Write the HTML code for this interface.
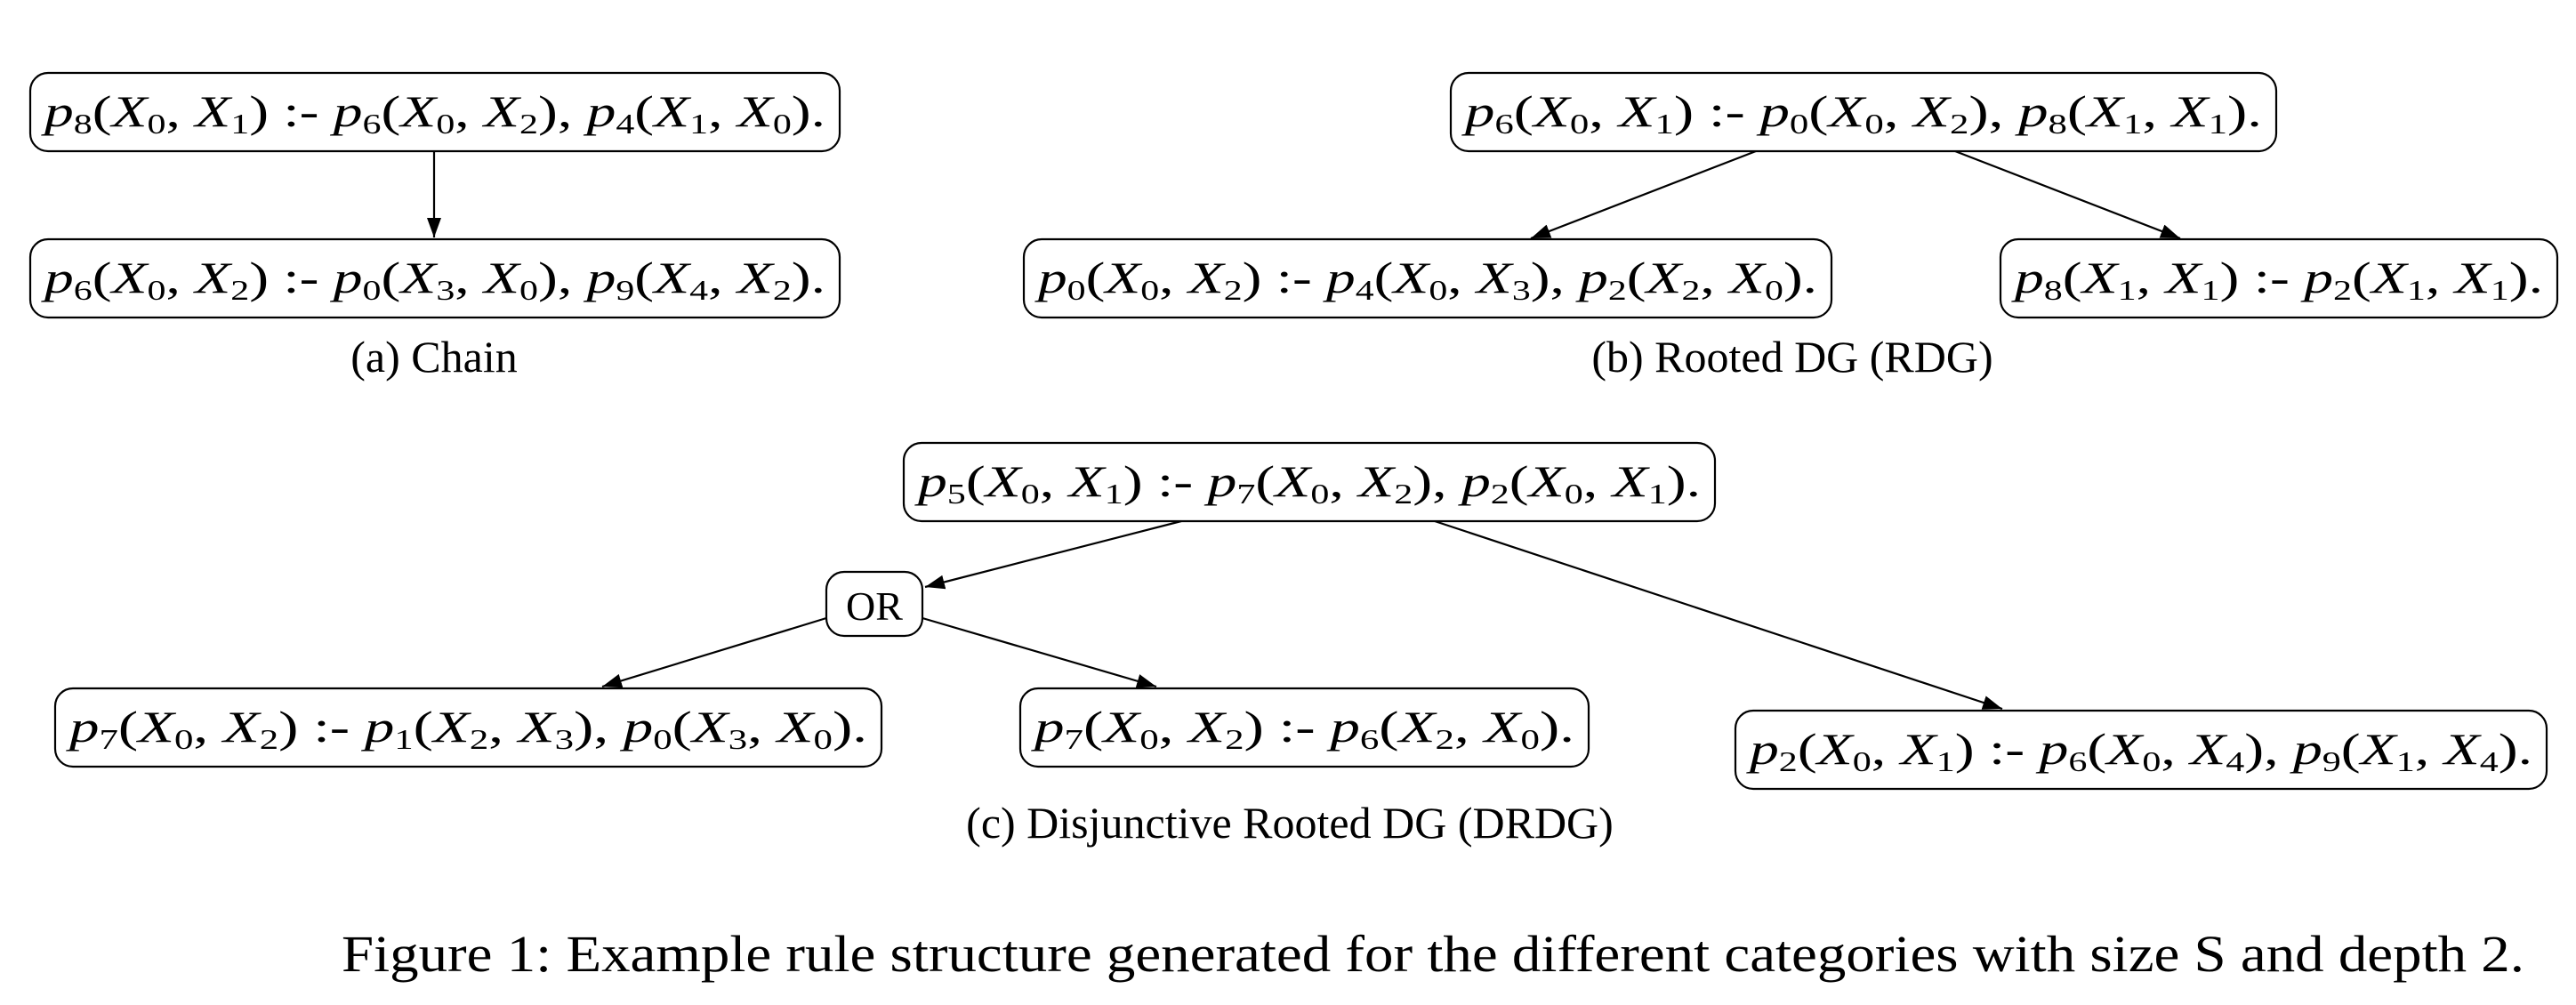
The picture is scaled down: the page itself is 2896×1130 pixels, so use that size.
<!DOCTYPE html>
<html><head><meta charset="utf-8"><style>
html,body{margin:0;padding:0;background:#fff;}
svg{display:block;}
text{font-family:"Liberation Serif",serif;fill:#000;}
.i{font-style:italic;}
</style></head><body>
<svg width="2896" height="1130" viewBox="0 0 2896 1130" xmlns="http://www.w3.org/2000/svg">
<defs>
<marker id="a" markerWidth="22" markerHeight="16" refX="22" refY="8" orient="auto" markerUnits="userSpaceOnUse"><path d="M0,0 L22,8 L0,16 z" fill="#000"/></marker></defs>
<g fill="none" stroke="#000" stroke-width="2.2">
<rect x="34" y="82" width="910" height="88" rx="20"/>
<rect x="34" y="269" width="910" height="88" rx="20"/>
<rect x="1631" y="82" width="928" height="88" rx="20"/>
<rect x="1151" y="269" width="908" height="88" rx="20"/>
<rect x="2249" y="269" width="626" height="88" rx="20"/>
<rect x="1016" y="498" width="912" height="88" rx="20"/>
<rect x="929" y="643" width="108" height="72" rx="20"/>
<rect x="62" y="774" width="929" height="88" rx="20"/>
<rect x="1147" y="774" width="639" height="88" rx="20"/>
<rect x="1951" y="799" width="912" height="88" rx="20"/>
<line x1="488" y1="170" x2="488" y2="267" marker-end="url(#a)"/>
<line x1="1974" y1="170" x2="1721" y2="268" marker-end="url(#a)"/>
<line x1="2198" y1="170" x2="2451" y2="268" marker-end="url(#a)"/>
<line x1="1328" y1="586" x2="1040" y2="660" marker-end="url(#a)"/>
<line x1="1613" y1="586" x2="2251" y2="797" marker-end="url(#a)"/>
<line x1="929" y1="695" x2="677" y2="772" marker-end="url(#a)"/>
<line x1="1037" y1="695" x2="1300" y2="772" marker-end="url(#a)"/>
</g>
<g font-size="50">
<text x="50" y="142" textLength="878" lengthAdjust="spacingAndGlyphs"><tspan class="i">p</tspan><tspan font-size="32" dy="8">8</tspan><tspan dy="-8">(</tspan><tspan class="i">X</tspan><tspan font-size="32" dy="8">0</tspan><tspan dy="-8">, </tspan><tspan class="i">X</tspan><tspan font-size="32" dy="8">1</tspan><tspan dy="-8">) :- </tspan><tspan class="i">p</tspan><tspan font-size="32" dy="8">6</tspan><tspan dy="-8">(</tspan><tspan class="i">X</tspan><tspan font-size="32" dy="8">0</tspan><tspan dy="-8">, </tspan><tspan class="i">X</tspan><tspan font-size="32" dy="8">2</tspan><tspan dy="-8">), </tspan><tspan class="i">p</tspan><tspan font-size="32" dy="8">4</tspan><tspan dy="-8">(</tspan><tspan class="i">X</tspan><tspan font-size="32" dy="8">1</tspan><tspan dy="-8">, </tspan><tspan class="i">X</tspan><tspan font-size="32" dy="8">0</tspan><tspan dy="-8">).</tspan></text>
<text x="50" y="329" textLength="878" lengthAdjust="spacingAndGlyphs"><tspan class="i">p</tspan><tspan font-size="32" dy="8">6</tspan><tspan dy="-8">(</tspan><tspan class="i">X</tspan><tspan font-size="32" dy="8">0</tspan><tspan dy="-8">, </tspan><tspan class="i">X</tspan><tspan font-size="32" dy="8">2</tspan><tspan dy="-8">) :- </tspan><tspan class="i">p</tspan><tspan font-size="32" dy="8">0</tspan><tspan dy="-8">(</tspan><tspan class="i">X</tspan><tspan font-size="32" dy="8">3</tspan><tspan dy="-8">, </tspan><tspan class="i">X</tspan><tspan font-size="32" dy="8">0</tspan><tspan dy="-8">), </tspan><tspan class="i">p</tspan><tspan font-size="32" dy="8">9</tspan><tspan dy="-8">(</tspan><tspan class="i">X</tspan><tspan font-size="32" dy="8">4</tspan><tspan dy="-8">, </tspan><tspan class="i">X</tspan><tspan font-size="32" dy="8">2</tspan><tspan dy="-8">).</tspan></text>
<text x="1647" y="142" textLength="896" lengthAdjust="spacingAndGlyphs"><tspan class="i">p</tspan><tspan font-size="32" dy="8">6</tspan><tspan dy="-8">(</tspan><tspan class="i">X</tspan><tspan font-size="32" dy="8">0</tspan><tspan dy="-8">, </tspan><tspan class="i">X</tspan><tspan font-size="32" dy="8">1</tspan><tspan dy="-8">) :- </tspan><tspan class="i">p</tspan><tspan font-size="32" dy="8">0</tspan><tspan dy="-8">(</tspan><tspan class="i">X</tspan><tspan font-size="32" dy="8">0</tspan><tspan dy="-8">, </tspan><tspan class="i">X</tspan><tspan font-size="32" dy="8">2</tspan><tspan dy="-8">), </tspan><tspan class="i">p</tspan><tspan font-size="32" dy="8">8</tspan><tspan dy="-8">(</tspan><tspan class="i">X</tspan><tspan font-size="32" dy="8">1</tspan><tspan dy="-8">, </tspan><tspan class="i">X</tspan><tspan font-size="32" dy="8">1</tspan><tspan dy="-8">).</tspan></text>
<text x="1167" y="329" textLength="876" lengthAdjust="spacingAndGlyphs"><tspan class="i">p</tspan><tspan font-size="32" dy="8">0</tspan><tspan dy="-8">(</tspan><tspan class="i">X</tspan><tspan font-size="32" dy="8">0</tspan><tspan dy="-8">, </tspan><tspan class="i">X</tspan><tspan font-size="32" dy="8">2</tspan><tspan dy="-8">) :- </tspan><tspan class="i">p</tspan><tspan font-size="32" dy="8">4</tspan><tspan dy="-8">(</tspan><tspan class="i">X</tspan><tspan font-size="32" dy="8">0</tspan><tspan dy="-8">, </tspan><tspan class="i">X</tspan><tspan font-size="32" dy="8">3</tspan><tspan dy="-8">), </tspan><tspan class="i">p</tspan><tspan font-size="32" dy="8">2</tspan><tspan dy="-8">(</tspan><tspan class="i">X</tspan><tspan font-size="32" dy="8">2</tspan><tspan dy="-8">, </tspan><tspan class="i">X</tspan><tspan font-size="32" dy="8">0</tspan><tspan dy="-8">).</tspan></text>
<text x="2265" y="329" textLength="594" lengthAdjust="spacingAndGlyphs"><tspan class="i">p</tspan><tspan font-size="32" dy="8">8</tspan><tspan dy="-8">(</tspan><tspan class="i">X</tspan><tspan font-size="32" dy="8">1</tspan><tspan dy="-8">, </tspan><tspan class="i">X</tspan><tspan font-size="32" dy="8">1</tspan><tspan dy="-8">) :- </tspan><tspan class="i">p</tspan><tspan font-size="32" dy="8">2</tspan><tspan dy="-8">(</tspan><tspan class="i">X</tspan><tspan font-size="32" dy="8">1</tspan><tspan dy="-8">, </tspan><tspan class="i">X</tspan><tspan font-size="32" dy="8">1</tspan><tspan dy="-8">).</tspan></text>
<text x="1032" y="558" textLength="880" lengthAdjust="spacingAndGlyphs"><tspan class="i">p</tspan><tspan font-size="32" dy="8">5</tspan><tspan dy="-8">(</tspan><tspan class="i">X</tspan><tspan font-size="32" dy="8">0</tspan><tspan dy="-8">, </tspan><tspan class="i">X</tspan><tspan font-size="32" dy="8">1</tspan><tspan dy="-8">) :- </tspan><tspan class="i">p</tspan><tspan font-size="32" dy="8">7</tspan><tspan dy="-8">(</tspan><tspan class="i">X</tspan><tspan font-size="32" dy="8">0</tspan><tspan dy="-8">, </tspan><tspan class="i">X</tspan><tspan font-size="32" dy="8">2</tspan><tspan dy="-8">), </tspan><tspan class="i">p</tspan><tspan font-size="32" dy="8">2</tspan><tspan dy="-8">(</tspan><tspan class="i">X</tspan><tspan font-size="32" dy="8">0</tspan><tspan dy="-8">, </tspan><tspan class="i">X</tspan><tspan font-size="32" dy="8">1</tspan><tspan dy="-8">).</tspan></text>
<text x="983" y="697" text-anchor="middle" font-size="46">OR</text>
<text x="78" y="834" textLength="897" lengthAdjust="spacingAndGlyphs"><tspan class="i">p</tspan><tspan font-size="32" dy="8">7</tspan><tspan dy="-8">(</tspan><tspan class="i">X</tspan><tspan font-size="32" dy="8">0</tspan><tspan dy="-8">, </tspan><tspan class="i">X</tspan><tspan font-size="32" dy="8">2</tspan><tspan dy="-8">) :- </tspan><tspan class="i">p</tspan><tspan font-size="32" dy="8">1</tspan><tspan dy="-8">(</tspan><tspan class="i">X</tspan><tspan font-size="32" dy="8">2</tspan><tspan dy="-8">, </tspan><tspan class="i">X</tspan><tspan font-size="32" dy="8">3</tspan><tspan dy="-8">), </tspan><tspan class="i">p</tspan><tspan font-size="32" dy="8">0</tspan><tspan dy="-8">(</tspan><tspan class="i">X</tspan><tspan font-size="32" dy="8">3</tspan><tspan dy="-8">, </tspan><tspan class="i">X</tspan><tspan font-size="32" dy="8">0</tspan><tspan dy="-8">).</tspan></text>
<text x="1163" y="834" textLength="607" lengthAdjust="spacingAndGlyphs"><tspan class="i">p</tspan><tspan font-size="32" dy="8">7</tspan><tspan dy="-8">(</tspan><tspan class="i">X</tspan><tspan font-size="32" dy="8">0</tspan><tspan dy="-8">, </tspan><tspan class="i">X</tspan><tspan font-size="32" dy="8">2</tspan><tspan dy="-8">) :- </tspan><tspan class="i">p</tspan><tspan font-size="32" dy="8">6</tspan><tspan dy="-8">(</tspan><tspan class="i">X</tspan><tspan font-size="32" dy="8">2</tspan><tspan dy="-8">, </tspan><tspan class="i">X</tspan><tspan font-size="32" dy="8">0</tspan><tspan dy="-8">).</tspan></text>
<text x="1967" y="859" textLength="880" lengthAdjust="spacingAndGlyphs"><tspan class="i">p</tspan><tspan font-size="32" dy="8">2</tspan><tspan dy="-8">(</tspan><tspan class="i">X</tspan><tspan font-size="32" dy="8">0</tspan><tspan dy="-8">, </tspan><tspan class="i">X</tspan><tspan font-size="32" dy="8">1</tspan><tspan dy="-8">) :- </tspan><tspan class="i">p</tspan><tspan font-size="32" dy="8">6</tspan><tspan dy="-8">(</tspan><tspan class="i">X</tspan><tspan font-size="32" dy="8">0</tspan><tspan dy="-8">, </tspan><tspan class="i">X</tspan><tspan font-size="32" dy="8">4</tspan><tspan dy="-8">), </tspan><tspan class="i">p</tspan><tspan font-size="32" dy="8">9</tspan><tspan dy="-8">(</tspan><tspan class="i">X</tspan><tspan font-size="32" dy="8">1</tspan><tspan dy="-8">, </tspan><tspan class="i">X</tspan><tspan font-size="32" dy="8">4</tspan><tspan dy="-8">).</tspan></text>
</g>
<g font-size="50" text-anchor="middle">
<text x="488" y="418">(a)  Chain</text>
<text x="2015" y="418">(b)  Rooted DG (RDG)</text>
<text x="1450" y="942">(c)  Disjunctive Rooted DG (DRDG)</text>
</g>
<text x="384" y="1092" font-size="58" textLength="2454" lengthAdjust="spacingAndGlyphs">Figure 1: Example rule structure generated for the different categories with size S and depth 2.</text>
</svg>
</body></html>
